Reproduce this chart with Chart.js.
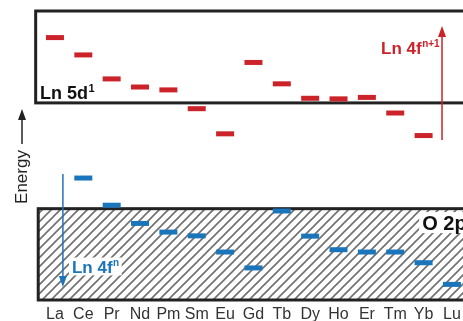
<!DOCTYPE html>
<html>
<head>
<meta charset="utf-8">
<script src="https://cdn.jsdelivr.net/npm/chart.js@4.4.0/dist/chart.umd.min.js"></script>
<style>
  html, body { margin: 0; padding: 0; overflow: hidden; background: #fff; }
  #wrap { position: relative; width: 463px; height: 321px; overflow: hidden; }
</style>
</head>
<body>
<div id="wrap"><canvas id="levels" width="520" height="321"></canvas></div>
<script>
// lanthanide series, energies in arbitrary units
const elements = ['La', 'Ce', 'Pr', 'Nd', 'Pm', 'Sm', 'Eu', 'Gd', 'Tb', 'Dy', 'Ho', 'Er', 'Tm', 'Yb', 'Lu'];
const level5d = [9.08, 8.48, 7.65, 7.37, 7.27, 6.62, 5.75, 8.22, 7.48, 6.98, 6.96, 7.01, 6.47, 5.69, null];
const level4f = [null, 4.22, 3.28, 2.65, 2.35, 2.22, 1.66, 1.11, 3.08, 2.21, 1.74, 1.66, 1.66, 1.29, 0.54];

// band edges (energy) for the conduction (Ln 5d) and valence (O 2p) boxes
const band5d = [6.82, 10];
const bandO2p = [0, 3.16];

const RED = '#cc2229';
const BLUE = '#1b75bb';
const FONT = "'Liberation Sans', Arial, sans-serif";

const toPoints = vals => vals.map((v, i) => ({ x: i, y: v })).filter(p => p.y !== null);

function hatch(ctx) {
  const s = 9;
  const c = document.createElement('canvas');
  c.width = s; c.height = s;
  const g = c.getContext('2d');
  g.fillStyle = '#fff';
  g.fillRect(0, 0, s, s);
  g.strokeStyle = '#707070';
  g.lineWidth = 1.6;
  g.beginPath();
  g.moveTo(-1, s + 1); g.lineTo(s + 1, -1);
  g.moveTo(-1, 1); g.lineTo(1, -1);
  g.moveTo(s - 1, s + 1); g.lineTo(s + 1, s - 1);
  g.stroke();
  return ctx.createPattern(c, 'repeat');
}

function arrow(ctx, x, y0, y1, color) {
  const dir = y1 < y0 ? 1 : -1;
  ctx.save();
  ctx.strokeStyle = color;
  ctx.fillStyle = color;
  ctx.lineWidth = 1.5;
  ctx.beginPath();
  ctx.moveTo(x, y0);
  ctx.lineTo(x, y1 + dir * 8);
  ctx.stroke();
  ctx.beginPath();
  ctx.moveTo(x, y1);
  ctx.lineTo(x - 4, y1 + dir * 11);
  ctx.lineTo(x + 4, y1 + dir * 11);
  ctx.closePath();
  ctx.fill();
  ctx.restore();
}

// label with superscript
function label(ctx, x, y, base, sup, color, size, clear) {
  ctx.save();
  ctx.font = `bold ${size}px ${FONT}`;
  const w1 = ctx.measureText(base).width;
  ctx.font = `bold ${Math.round(size * 0.6)}px ${FONT}`;
  const w2 = sup ? ctx.measureText(sup).width : 0;
  if (clear) {
    ctx.fillStyle = '#fff';
    ctx.fillRect(x - 3, y - size * 0.9, w1 + w2 + 6, size * 1.05);
  }
  ctx.fillStyle = color;
  ctx.textBaseline = 'alphabetic';
  ctx.font = `bold ${size}px ${FONT}`;
  ctx.fillText(base, x, y);
  if (sup) {
    ctx.font = `bold ${Math.round(size * 0.6)}px ${FONT}`;
    ctx.fillText(sup, x + w1 + 0.5, y - size * 0.42);
  }
  ctx.restore();
}

const diagram = {
  id: 'diagram',
  beforeDatasetsDraw(chart) {
    const { ctx, scales: { x, y } } = chart;
    const right = chart.width + 10;
    ctx.save();
    // O 2p valence band, hatched
    let l = x.getPixelForValue(-0.59), t = y.getPixelForValue(bandO2p[1]), b = y.getPixelForValue(bandO2p[0]);
    ctx.fillStyle = hatch(ctx);
    ctx.fillRect(l, t, right - l, b - t);
    label(ctx, x.getPixelForValue(12.95), y.getPixelForValue(2.42), 'O 2p', '', '#111', 20, true);
    label(ctx, x.getPixelForValue(0.6), y.getPixelForValue(0.94), 'Ln 4f', 'n', BLUE, 17, true);
    ctx.strokeStyle = '#222';
    ctx.lineWidth = 3;
    ctx.strokeRect(l, t, right - l, b - t);
    // Ln 5d conduction band box
    l = x.getPixelForValue(-0.68); t = y.getPixelForValue(band5d[1]); b = y.getPixelForValue(band5d[0]);
    ctx.strokeRect(l, t, right - l, b - t);
    label(ctx, x.getPixelForValue(-0.53), y.getPixelForValue(6.95), 'Ln 5d', '1', '#111', 18, false);
    ctx.restore();
  },
  afterDatasetsDraw(chart) {
    const { ctx, scales: { x, y } } = chart;
    arrow(ctx, x.getPixelForValue(13.65), y.getPixelForValue(5.54), y.getPixelForValue(9.48), RED);
    arrow(ctx, x.getPixelForValue(0.28), y.getPixelForValue(4.36), y.getPixelForValue(0.45), BLUE);
    label(ctx, x.getPixelForValue(11.5), y.getPixelForValue(8.51), 'Ln 4f', 'n+1', RED, 17, false);
    // energy axis label with arrow
    ctx.save();
    ctx.translate(22, 177);
    ctx.rotate(-Math.PI / 2);
    ctx.font = `17px ${FONT}`;
    ctx.fillStyle = '#222';
    ctx.textAlign = 'center';
    ctx.textBaseline = 'middle';
    ctx.fillText('Energy', 0, 0);
    ctx.restore();
    arrow(ctx, 22, 144, 109, '#222');
  }
};

new Chart(document.getElementById('levels'), {
  type: 'scatter',
  data: {
    datasets: [
      {
        label: 'Ln 4f n+1 (5d)',
        data: toPoints(level5d),
        pointStyle: 'line',
        pointRadius: 9,
        borderWidth: 5,
        borderColor: RED,
        backgroundColor: RED
      },
      {
        label: 'Ln 4f n',
        data: toPoints(level4f),
        pointStyle: 'line',
        pointRadius: 9,
        borderWidth: 5,
        borderColor: BLUE,
        backgroundColor: BLUE
      }
    ]
  },
  options: {
    responsive: false,
    animation: false,
    events: [],
    layout: { autoPadding: false, padding: { left: 30, top: 11, right: 0, bottom: -9 } },
    plugins: { legend: { display: false }, tooltip: { enabled: false } },
    scales: {
      x: {
        type: 'linear',
        min: -0.88,
        max: 16.4,
        grid: { display: false, drawTicks: false },
        border: { display: false },
        ticks: {
          stepSize: 1,
          includeBounds: false,
          autoSkip: false,
          maxRotation: 0,
          padding: 9,
          color: '#333',
          font: { family: FONT, size: 16, lineHeight: 0.75 },
          callback: v => (Number.isInteger(v) && elements[v]) ? elements[v] : ''
        }
      },
      y: {
        display: false,
        min: 0,
        max: 10
      }
    }
  },
  plugins: [diagram]
});
</script>
</body>
</html>
